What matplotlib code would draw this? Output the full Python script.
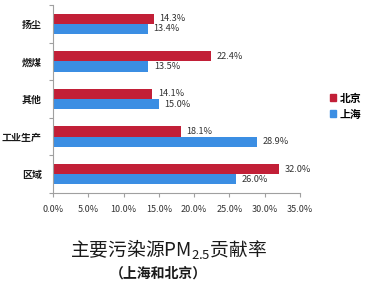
import matplotlib
matplotlib.use("Agg")
import matplotlib.pyplot as plt
import numpy as np
from matplotlib.patches import Patch

plt.rcParams['font.family'] = ['Noto Sans CJK SC', 'DejaVu Sans']
plt.rcParams['mathtext.fontset'] = 'custom'
plt.rcParams['mathtext.rm'] = 'Noto Sans CJK SC'
plt.rcParams['mathtext.it'] = 'Noto Sans CJK SC'
plt.rcParams['mathtext.bf'] = 'Noto Sans CJK SC:bold'

categories = ['扬尘', '燃煤', '其他', '工业生产', '区域']
beijing = [14.3, 22.4, 14.1, 18.1, 32.0]
shanghai = [13.4, 13.5, 15.0, 28.9, 26.0]
series_names = ['北京', '上海']
xticks = [0, 5, 10, 15, 20, 25, 30, 35]

red = '#C21F37'
blue = '#3B8EE3'
axis_gray = '#A0A0A0'
text_col = '#333333'

fig = plt.figure(figsize=(3.91, 3.00), dpi=100)
ax = fig.add_axes([0.1355, 0.357, 0.6315, 0.626])

y = np.arange(len(categories))
h = 0.27
ax.barh(y - h / 2, beijing, height=h, color=red, label=series_names[0])
ax.barh(y + h / 2, shanghai, height=h, color=blue, label=series_names[1])

for yi, v in zip(y - h / 2, beijing):
    ax.annotate(f'{v:.1f}%', (v, yi), xytext=(4, 0), textcoords='offset points',
                va='center', ha='left', fontsize=6.6, color=text_col)
for yi, v in zip(y + h / 2, shanghai):
    ax.annotate(f'{v:.1f}%', (v, yi), xytext=(4, 0), textcoords='offset points',
                va='center', ha='left', fontsize=6.6, color=text_col)

ax.set_xlim(0, 35)
ax.set_ylim(4.5, -0.5)
ax.set_xticks(xticks)
ax.set_xticklabels([f'{t:.1f}%' for t in xticks], fontsize=6.5, color=text_col)
ax.tick_params(axis='x', length=3, width=0.8, color=axis_gray, pad=6)

ax.set_yticks(y)
ax.set_yticklabels(categories, fontsize=7.2, color='#1a1a1a', fontweight='bold')
ax.set_yticks(np.arange(-0.5, len(categories), 1.0), minor=True)
ax.tick_params(axis='y', which='major', length=0, pad=8)
ax.tick_params(axis='y', which='minor', length=3, width=0.8, color=axis_gray)

for s in ['top', 'right']:
    ax.spines[s].set_visible(False)
for s in ['left', 'bottom']:
    ax.spines[s].set_color(axis_gray)
    ax.spines[s].set_linewidth(0.8)

handles = [Patch(color=red), Patch(color=blue)]
fig.legend(handles, series_names, loc='center left', bbox_to_anchor=(0.83, 0.645),
           frameon=False, prop={'size': 7.8, 'weight': 'bold'},
           handlelength=0.6, handleheight=0.6,
           handletextpad=0.3, labelspacing=0.55, borderpad=0)

fig.text(0.43, 0.167, r'主要污染源PM$_{2.5}$贡献率', ha='center', va='center',
         fontsize=13.5, color='#1a1a1a')
fig.text(0.405, 0.087, '（上海和北京）', ha='center', va='center',
         fontsize=10, fontweight='bold', color='#1a1a1a')

fig.savefig('out.png', dpi=100, facecolor='white')
